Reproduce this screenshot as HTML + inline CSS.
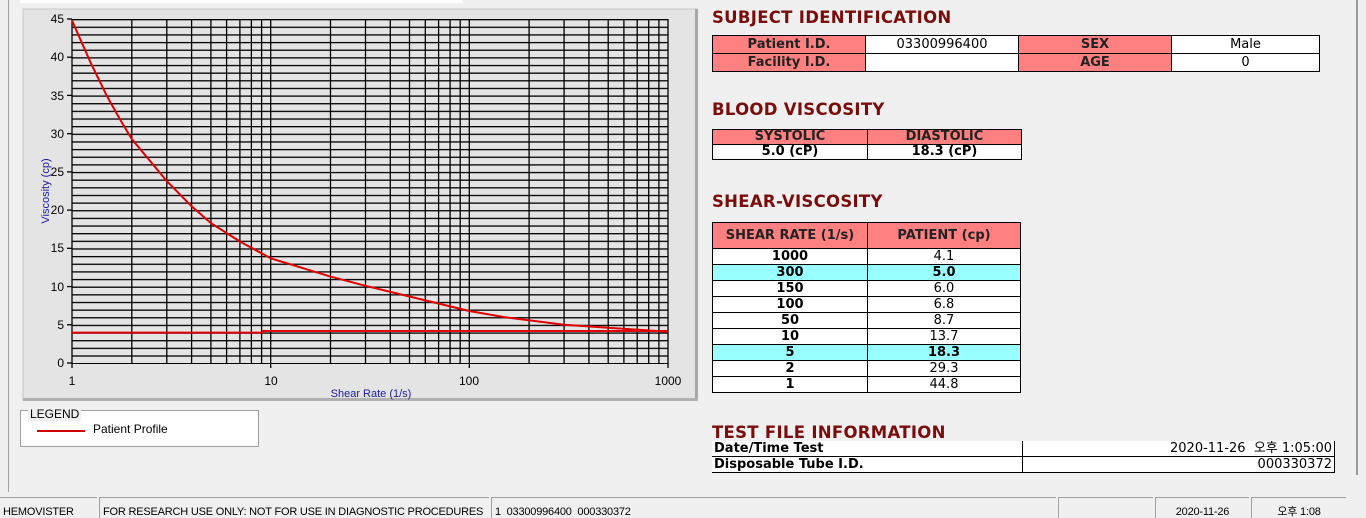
<!DOCTYPE html>
<html><head><meta charset="utf-8"><style>
html,body{margin:0;width:1366px;height:518px;overflow:hidden}
body{background:#f0f0f0;position:relative;font-family:"Liberation Sans","Noto Sans CJK KR",sans-serif}
.a{position:absolute}
.t{position:absolute;color:#7a0c0c;font-weight:bold;font-size:16.5px;font-family:"DejaVu Sans","Liberation Sans",sans-serif;white-space:nowrap;letter-spacing:0.3px}
table{position:absolute;border-collapse:collapse;font-size:13px;font-family:"DejaVu Sans","Liberation Sans","Noto Sans CJK KR",sans-serif}
td{border:1px solid #000;padding:0;text-align:center;height:17px;line-height:15px}
.p{background:#ff8080;font-weight:bold;color:#222}
.w{background:#fff}
.b{font-weight:bold}
.c{background:#99ffff;font-weight:bold}
.sb{position:absolute;top:497px;height:21px;overflow:hidden;border-top:1px solid #a0a0a0;border-left:1px solid #a0a0a0;font-size:11px;letter-spacing:-0.2px;line-height:28px;padding-left:3px;box-sizing:border-box;color:#000;white-space:nowrap}
</style></head><body>
<div class="a" style="left:0;top:0;width:8px;height:492px;border-right:1px solid #a0a0a0"></div>
<div class="a" style="left:1356px;top:0;width:2px;height:475px;background:#9a9a9a"></div>
<div class="a" style="left:20px;top:0;width:442px;height:3px;background:#fff"></div>
<svg class="a" style="left:0;top:0" width="700" height="410">
<rect x="23" y="9" width="674" height="391" fill="#e4e4e4" stroke="#c8c8c8"/>
<rect x="695" y="9" width="3" height="391" fill="#a8a8a8"/>
<rect x="23" y="398" width="675" height="3" fill="#b0b0b0"/>
<defs><pattern id="h" x="0" y="19" width="700" height="7.6444" patternUnits="userSpaceOnUse"><rect x="0" y="0" width="700" height="1.3" fill="#000"/></pattern></defs>
<rect x="72" y="19" width="596" height="345" fill="url(#h)"/>
<g stroke="#000" stroke-width="1.3">
<line x1="72" y1="19" x2="72" y2="368"/><line x1="131.8" y1="19" x2="131.8" y2="363"/><line x1="166.8" y1="19" x2="166.8" y2="363"/><line x1="191.6" y1="19" x2="191.6" y2="363"/><line x1="210.9" y1="19" x2="210.9" y2="363"/><line x1="226.6" y1="19" x2="226.6" y2="363"/><line x1="239.9" y1="19" x2="239.9" y2="363"/><line x1="251.4" y1="19" x2="251.4" y2="363"/><line x1="261.6" y1="19" x2="261.6" y2="363"/>
<line x1="270.7" y1="19" x2="270.7" y2="368"/><line x1="330.5" y1="19" x2="330.5" y2="363"/><line x1="365.5" y1="19" x2="365.5" y2="363"/><line x1="390.3" y1="19" x2="390.3" y2="363"/><line x1="409.5" y1="19" x2="409.5" y2="363"/><line x1="425.3" y1="19" x2="425.3" y2="363"/><line x1="438.6" y1="19" x2="438.6" y2="363"/><line x1="450.1" y1="19" x2="450.1" y2="363"/><line x1="460.2" y1="19" x2="460.2" y2="363"/>
<line x1="469.3" y1="19" x2="469.3" y2="368"/><line x1="529.1" y1="19" x2="529.1" y2="363"/><line x1="564.1" y1="19" x2="564.1" y2="363"/><line x1="588.9" y1="19" x2="588.9" y2="363"/><line x1="608.2" y1="19" x2="608.2" y2="363"/><line x1="623.9" y1="19" x2="623.9" y2="363"/><line x1="637.2" y1="19" x2="637.2" y2="363"/><line x1="648.7" y1="19" x2="648.7" y2="363"/><line x1="658.9" y1="19" x2="658.9" y2="363"/>
<line x1="668" y1="19" x2="668" y2="368"/>
<line x1="67" y1="19" x2="72" y2="19"/><line x1="67" y1="57.2" x2="72" y2="57.2"/><line x1="67" y1="95.4" x2="72" y2="95.4"/><line x1="67" y1="133.7" x2="72" y2="133.7"/><line x1="67" y1="171.9" x2="72" y2="171.9"/><line x1="67" y1="210.1" x2="72" y2="210.1"/><line x1="67" y1="248.3" x2="72" y2="248.3"/><line x1="67" y1="286.6" x2="72" y2="286.6"/><line x1="67" y1="324.8" x2="72" y2="324.8"/><line x1="67" y1="363" x2="72" y2="363"/>
</g>
<g font-family="Liberation Sans, sans-serif" font-size="12" fill="#000" text-anchor="end">
<text x="64" y="23">45</text><text x="64" y="61">40</text><text x="64" y="100">35</text><text x="64" y="138">30</text><text x="64" y="176">25</text><text x="64" y="214">20</text><text x="64" y="252">15</text><text x="64" y="291">10</text><text x="64" y="329">5</text><text x="64" y="367">0</text>
</g>
<g font-family="Liberation Sans, sans-serif" font-size="12" fill="#000" text-anchor="middle">
<text x="72" y="385">1</text><text x="271" y="385">10</text><text x="469" y="385">100</text><text x="668" y="385">1000</text>
</g>
<text x="371" y="397" font-family="Liberation Sans, sans-serif" font-size="11" fill="#1a1aa0" text-anchor="middle">Shear Rate (1/s)</text>
<text transform="translate(49,191) rotate(-90)" font-family="Liberation Sans, sans-serif" font-size="11" fill="#1a1aa0" text-anchor="middle">Viscosity (cp)</text>
<polyline fill="none" stroke="#e00000" stroke-width="2" points="72,20.5 91.3,64.1 107,96.2 120.3,119.9 131.8,139 166.8,181.1 191.6,206.3 210.9,223.1 239.9,241.5 270.7,258.3 330.5,276.6 365.5,285.8 409.5,296.5 469.3,311 504.3,317.1 564.1,324.8 608.2,327.8 668,331.7"/>
<polyline fill="none" stroke="#e00000" stroke-width="2" points="72,332.6 262,332.6 263,331 668,331"/>
</svg>
<div class="a" style="left:20px;top:410px;width:237px;height:35px;border:1px solid #a0a0a0;background:#fff"></div>
<div class="a" style="left:28px;top:408px;background:#f0f0f0;font-size:12px;padding:0 2px;line-height:13px">LEGEND</div>
<div class="a" style="left:37px;top:430px;width:48px;height:2px;background:#d00000"></div>
<div class="a" style="left:93px;top:422px;font-size:12px">Patient Profile</div>

<div class="t" style="left:712px;top:8px">SUBJECT IDENTIFICATION</div>
<table style="left:712px;top:35px;width:608px">
<tr><td class="p" style="width:152px">Patient I.D.</td><td class="w" style="width:152px">03300996400</td><td class="p" style="width:152px">SEX</td><td class="w">Male</td></tr>
<tr><td class="p">Facility I.D.</td><td class="w"></td><td class="p">AGE</td><td class="w">0</td></tr>
</table>
<div class="t" style="left:712px;top:100px">BLOOD VISCOSITY</div>
<table style="left:712px;top:129px;width:310px">
<tr><td class="p" style="width:154px;height:14px;line-height:14px">SYSTOLIC</td><td class="p" style="height:14px;line-height:14px">DIASTOLIC</td></tr>
<tr><td class="w b" style="height:14px;line-height:14px">5.0 (cP)</td><td class="w b" style="height:14px;line-height:14px">18.3 (cP)</td></tr>
</table>
<div class="t" style="left:712px;top:192px">SHEAR-VISCOSITY</div>
<table style="left:712px;top:222px;width:309px">
<tr><td class="p" style="width:154px;height:25px">SHEAR RATE (1/s)</td><td class="p" style="height:25px">PATIENT (cp)</td></tr>
<tr><td class="w b" style="height:15px;line-height:14px">1000</td><td class="w" style="height:15px">4.1</td></tr>
<tr><td class="c" style="height:15px">300</td><td class="c" style="height:15px">5.0</td></tr>
<tr><td class="w b" style="height:15px">150</td><td class="w" style="height:15px">6.0</td></tr>
<tr><td class="w b" style="height:15px">100</td><td class="w" style="height:15px">6.8</td></tr>
<tr><td class="w b" style="height:15px">50</td><td class="w" style="height:15px">8.7</td></tr>
<tr><td class="w b" style="height:15px">10</td><td class="w" style="height:15px">13.7</td></tr>
<tr><td class="c" style="height:15px">5</td><td class="c" style="height:15px">18.3</td></tr>
<tr><td class="w b" style="height:15px">2</td><td class="w" style="height:15px">29.3</td></tr>
<tr><td class="w b" style="height:15px">1</td><td class="w" style="height:15px">44.8</td></tr>
</table>
<div class="t" style="left:712px;top:423px">TEST FILE INFORMATION</div>
<table style="left:712px;top:441px;width:623px">
<tr><td class="w b" style="width:308px;text-align:left;padding-left:2px;height:15px;border-top:0;border-left:0">Date/Time Test</td><td class="w" style="text-align:right;padding-right:2px;height:15px;border-top:0">2020-11-26&nbsp; 오후 1:05:00</td></tr>
<tr><td class="w b" style="text-align:left;padding-left:2px;height:15px;border-left:0">Disposable Tube I.D.</td><td class="w" style="text-align:right;padding-right:2px;height:15px">000330372</td></tr>
</table>

<div class="sb" style="left:0;width:97px;border-left:0">HEMOVISTER</div>
<div class="sb" style="left:99px;width:390px">FOR RESEARCH USE ONLY: NOT FOR USE IN DIAGNOSTIC PROCEDURES</div>
<div class="sb" style="left:491px;width:565px">1&nbsp; 03300996400&nbsp; 000330372</div>
<div class="sb" style="left:1058px;width:95px"></div>
<div class="sb" style="left:1155px;width:94px;text-align:center;padding:0">2020-11-26</div>
<div class="sb" style="left:1251px;width:95px;text-align:center;padding:0">오후 1:08</div>
</body></html>
